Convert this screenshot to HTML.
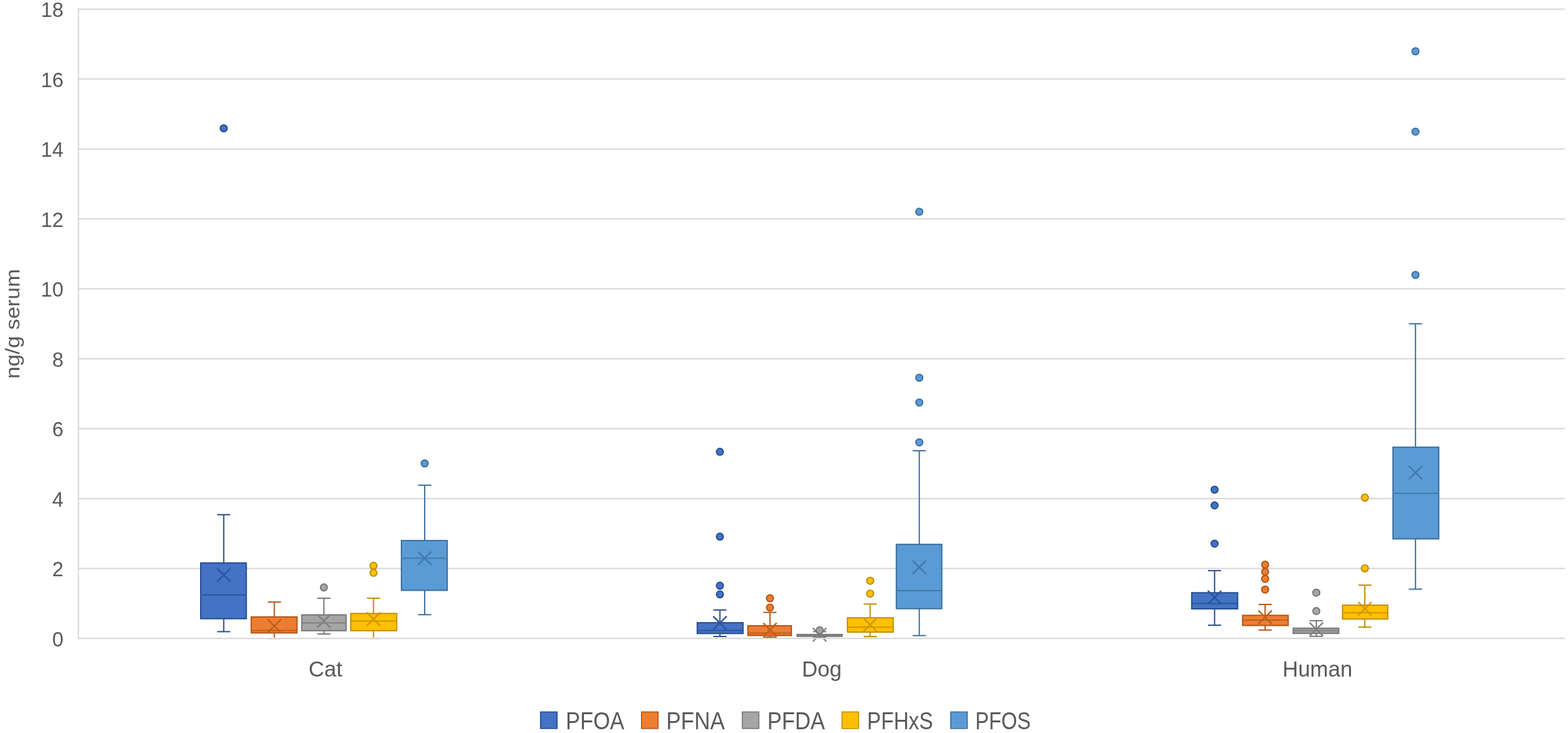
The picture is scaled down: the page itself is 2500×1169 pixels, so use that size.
<!DOCTYPE html>
<html><head><meta charset="utf-8"><title>ng/g serum box plot</title>
<style>html,body{margin:0;padding:0;background:#fff;}body{width:2500px;height:1169px;overflow:hidden;}svg{display:block;}text{font-family:"Liberation Sans",Arial,sans-serif;fill:#595959;}</style>
</head><body>
<svg width="2500" height="1169" viewBox="0 0 2500 1169">
<rect x="0" y="0" width="2500" height="1169" fill="#fff"/>
<g stroke="#D9D9D9" stroke-width="2.2" fill="none">
<line x1="124" y1="906.70" x2="2495" y2="906.70"/>
<line x1="124" y1="795.20" x2="2495" y2="795.20"/>
<line x1="124" y1="683.70" x2="2495" y2="683.70"/>
<line x1="124" y1="572.20" x2="2495" y2="572.20"/>
<line x1="124" y1="460.70" x2="2495" y2="460.70"/>
<line x1="124" y1="349.20" x2="2495" y2="349.20"/>
<line x1="124" y1="237.70" x2="2495" y2="237.70"/>
<line x1="124" y1="126.20" x2="2495" y2="126.20"/>
<line x1="124" y1="14.70" x2="2495" y2="14.70"/>
<line x1="125" y1="13.60" x2="125" y2="1019.30"/>
</g>
<g font-size="32.3" text-anchor="end">
<text x="101.3" y="1030.90">0</text>
<text x="101.3" y="919.40">2</text>
<text x="101.3" y="807.90">4</text>
<text x="101.3" y="696.40">6</text>
<text x="101.3" y="584.90">8</text>
<text x="101.3" y="473.40">10</text>
<text x="101.3" y="361.90">12</text>
<text x="101.3" y="250.40">14</text>
<text x="101.3" y="138.90">16</text>
<text x="101.3" y="27.40">18</text>
</g>
<text font-size="31.5" text-anchor="middle" textLength="175" lengthAdjust="spacingAndGlyphs" transform="translate(31,516.4) rotate(-90)">ng/g serum</text>
<g stroke="#254C8F" stroke-width="2.0" fill="none">
<line x1="356.70" y1="820.80" x2="356.70" y2="897.80"/>
<line x1="356.70" y1="986.70" x2="356.70" y2="1007.40"/>
<line x1="346.20" y1="820.80" x2="367.20" y2="820.80"/>
<line x1="346.20" y1="1007.40" x2="367.20" y2="1007.40"/>
<rect x="320.00" y="897.80" width="72.70" height="88.90" fill="#4472C4"/>
<line x1="320.00" y1="948.70" x2="392.70" y2="948.70" stroke="#2C549B"/>
<path d="M346.00 906.30L367.40 927.70M346.00 927.70L367.40 906.30" stroke-width="2.4" stroke="#2C549B"/>
<circle cx="356.70" cy="204.70" r="5.50" fill="#4472C4"/>
</g>
<g stroke="#B15516" stroke-width="2.0" fill="none">
<line x1="437.40" y1="960.20" x2="437.40" y2="983.90"/>
<line x1="437.40" y1="1009.40" x2="437.40" y2="1018.20"/>
<line x1="426.90" y1="960.20" x2="447.90" y2="960.20"/>
<line x1="426.90" y1="1018.20" x2="447.90" y2="1018.20"/>
<rect x="400.50" y="983.90" width="73.10" height="25.50" fill="#ED7D31"/>
<line x1="400.50" y1="1005.40" x2="473.60" y2="1005.40" stroke="#BE5E1C"/>
<path d="M426.70 987.60L448.10 1009.00M426.70 1009.00L448.10 987.60" stroke-width="2.4" stroke="#BE5E1C"/>
</g>
<g stroke="#767676" stroke-width="2.0" fill="none">
<line x1="516.40" y1="954.10" x2="516.40" y2="980.60"/>
<line x1="516.40" y1="1005.80" x2="516.40" y2="1011.10"/>
<line x1="505.90" y1="954.10" x2="526.90" y2="954.10"/>
<line x1="505.90" y1="1011.10" x2="526.90" y2="1011.10"/>
<rect x="481.20" y="980.60" width="70.60" height="25.20" fill="#A5A5A5"/>
<line x1="481.20" y1="993.50" x2="551.80" y2="993.50" stroke="#808080"/>
<path d="M505.70 979.70L527.10 1001.10M505.70 1001.10L527.10 979.70" stroke-width="2.4" stroke="#808080"/>
<circle cx="516.40" cy="936.80" r="5.50" fill="#A5A5A5"/>
</g>
<g stroke="#C08C00" stroke-width="2.0" fill="none">
<line x1="595.50" y1="954.10" x2="595.50" y2="978.40"/>
<line x1="595.50" y1="1005.80" x2="595.50" y2="1018.20"/>
<line x1="585.00" y1="954.10" x2="606.00" y2="954.10"/>
<line x1="585.00" y1="1018.20" x2="606.00" y2="1018.20"/>
<rect x="559.30" y="978.40" width="73.20" height="27.40" fill="#FFC000"/>
<line x1="559.30" y1="990.40" x2="632.50" y2="990.40" stroke="#CE9700"/>
<path d="M584.80 976.60L606.20 998.00M584.80 998.00L606.20 976.60" stroke-width="2.4" stroke="#CE9700"/>
<circle cx="595.50" cy="902.30" r="5.50" fill="#FFC000"/>
<circle cx="595.50" cy="913.50" r="5.50" fill="#FFC000"/>
</g>
<g stroke="#3A6E9E" stroke-width="2.0" fill="none">
<line x1="677.10" y1="773.80" x2="677.10" y2="862.10"/>
<line x1="677.10" y1="941.50" x2="677.10" y2="980.30"/>
<line x1="666.60" y1="773.80" x2="687.60" y2="773.80"/>
<line x1="666.60" y1="980.30" x2="687.60" y2="980.30"/>
<rect x="640.00" y="862.10" width="73.00" height="79.40" fill="#5B9BD5"/>
<line x1="640.00" y1="890.30" x2="713.00" y2="890.30" stroke="#4178AA"/>
<path d="M666.40 879.60L687.80 901.00M666.40 901.00L687.80 879.60" stroke-width="2.4" stroke="#4178AA"/>
<circle cx="677.10" cy="739.10" r="5.50" fill="#5B9BD5"/>
</g>
<g stroke="#254C8F" stroke-width="2.0" fill="none">
<line x1="1147.80" y1="972.80" x2="1147.80" y2="993.10"/>
<line x1="1147.80" y1="1010.30" x2="1147.80" y2="1015.00"/>
<line x1="1137.30" y1="972.80" x2="1158.30" y2="972.80"/>
<line x1="1137.30" y1="1015.00" x2="1158.30" y2="1015.00"/>
<rect x="1111.70" y="993.10" width="73.00" height="17.20" fill="#4472C4"/>
<line x1="1111.70" y1="1005.60" x2="1184.70" y2="1005.60" stroke="#2C549B"/>
<path d="M1137.10 982.90L1158.50 1004.30M1137.10 1004.30L1158.50 982.90" stroke-width="2.4" stroke="#2C549B"/>
<circle cx="1147.80" cy="720.50" r="5.50" fill="#4472C4"/>
<circle cx="1147.80" cy="855.80" r="5.50" fill="#4472C4"/>
<circle cx="1147.80" cy="934.10" r="5.50" fill="#4472C4"/>
<circle cx="1147.80" cy="947.90" r="5.50" fill="#4472C4"/>
</g>
<g stroke="#B15516" stroke-width="2.0" fill="none">
<line x1="1227.60" y1="976.70" x2="1227.60" y2="998.00"/>
<line x1="1227.60" y1="1013.50" x2="1227.60" y2="1016.20"/>
<line x1="1217.10" y1="976.70" x2="1238.10" y2="976.70"/>
<line x1="1217.10" y1="1016.20" x2="1238.10" y2="1016.20"/>
<rect x="1192.40" y="998.00" width="69.40" height="15.50" fill="#ED7D31"/>
<line x1="1192.40" y1="1009.80" x2="1261.80" y2="1009.80" stroke="#BE5E1C"/>
<path d="M1216.90 993.70L1238.30 1015.10M1216.90 1015.10L1238.30 993.70" stroke-width="2.4" stroke="#BE5E1C"/>
<circle cx="1227.60" cy="954.10" r="5.50" fill="#ED7D31"/>
<circle cx="1227.60" cy="969.00" r="5.50" fill="#ED7D31"/>
</g>
<g stroke="#767676" stroke-width="2.0" fill="none">
<line x1="1306.80" y1="1007.30" x2="1306.80" y2="1011.90"/>
<line x1="1306.80" y1="1014.80" x2="1306.80" y2="1016.20"/>
<line x1="1296.30" y1="1007.30" x2="1317.30" y2="1007.30"/>
<line x1="1296.30" y1="1016.20" x2="1317.30" y2="1016.20"/>
<rect x="1270.80" y="1011.90" width="72.00" height="2.90" fill="#A5A5A5"/>
<line x1="1270.80" y1="1013.40" x2="1342.80" y2="1013.40" stroke="#808080"/>
<path d="M1296.10 1001.60L1317.50 1023.00M1296.10 1023.00L1317.50 1001.60" stroke-width="2.4" stroke="#808080"/>
<circle cx="1306.80" cy="1005.30" r="5.50" fill="#A5A5A5"/>
</g>
<g stroke="#C08C00" stroke-width="2.0" fill="none">
<line x1="1387.40" y1="963.40" x2="1387.40" y2="985.30"/>
<line x1="1387.40" y1="1008.10" x2="1387.40" y2="1015.20"/>
<line x1="1376.90" y1="963.40" x2="1397.90" y2="963.40"/>
<line x1="1376.90" y1="1015.20" x2="1397.90" y2="1015.20"/>
<rect x="1351.20" y="985.30" width="73.00" height="22.80" fill="#FFC000"/>
<line x1="1351.20" y1="1000.20" x2="1424.20" y2="1000.20" stroke="#CE9700"/>
<path d="M1376.70 985.60L1398.10 1007.00M1376.70 1007.00L1398.10 985.60" stroke-width="2.4" stroke="#CE9700"/>
<circle cx="1387.40" cy="926.20" r="5.50" fill="#FFC000"/>
<circle cx="1387.40" cy="946.70" r="5.50" fill="#FFC000"/>
</g>
<g stroke="#3A6E9E" stroke-width="2.0" fill="none">
<line x1="1465.70" y1="718.80" x2="1465.70" y2="868.20"/>
<line x1="1465.70" y1="970.70" x2="1465.70" y2="1013.70"/>
<line x1="1455.20" y1="718.80" x2="1476.20" y2="718.80"/>
<line x1="1455.20" y1="1013.70" x2="1476.20" y2="1013.70"/>
<rect x="1429.20" y="868.20" width="72.40" height="102.50" fill="#5B9BD5"/>
<line x1="1429.20" y1="942.10" x2="1501.60" y2="942.10" stroke="#4178AA"/>
<path d="M1455.00 893.90L1476.40 915.30M1455.00 915.30L1476.40 893.90" stroke-width="2.4" stroke="#4178AA"/>
<circle cx="1465.70" cy="337.70" r="5.50" fill="#5B9BD5"/>
<circle cx="1465.70" cy="602.40" r="5.50" fill="#5B9BD5"/>
<circle cx="1465.70" cy="641.90" r="5.50" fill="#5B9BD5"/>
<circle cx="1465.70" cy="705.40" r="5.50" fill="#5B9BD5"/>
</g>
<g stroke="#254C8F" stroke-width="2.0" fill="none">
<line x1="1936.50" y1="910.10" x2="1936.50" y2="945.30"/>
<line x1="1936.50" y1="971.00" x2="1936.50" y2="997.10"/>
<line x1="1926.00" y1="910.10" x2="1947.00" y2="910.10"/>
<line x1="1926.00" y1="997.10" x2="1947.00" y2="997.10"/>
<rect x="1900.10" y="945.30" width="73.20" height="25.70" fill="#4472C4"/>
<line x1="1900.10" y1="962.40" x2="1973.30" y2="962.40" stroke="#2C549B"/>
<path d="M1925.80 942.00L1947.20 963.40M1925.80 963.40L1947.20 942.00" stroke-width="2.4" stroke="#2C549B"/>
<circle cx="1936.50" cy="780.90" r="5.50" fill="#4472C4"/>
<circle cx="1936.50" cy="806.00" r="5.50" fill="#4472C4"/>
<circle cx="1936.50" cy="867.00" r="5.50" fill="#4472C4"/>
</g>
<g stroke="#B15516" stroke-width="2.0" fill="none">
<line x1="2017.10" y1="964.00" x2="2017.10" y2="981.40"/>
<line x1="2017.10" y1="997.50" x2="2017.10" y2="1004.80"/>
<line x1="2006.60" y1="964.00" x2="2027.60" y2="964.00"/>
<line x1="2006.60" y1="1004.80" x2="2027.60" y2="1004.80"/>
<rect x="1981.20" y="981.40" width="72.60" height="16.10" fill="#ED7D31"/>
<line x1="1981.20" y1="989.00" x2="2053.80" y2="989.00" stroke="#BE5E1C"/>
<path d="M2006.40 973.70L2027.80 995.10M2006.40 995.10L2027.80 973.70" stroke-width="2.4" stroke="#BE5E1C"/>
<circle cx="2017.10" cy="900.60" r="5.50" fill="#ED7D31"/>
<circle cx="2017.10" cy="911.90" r="5.50" fill="#ED7D31"/>
<circle cx="2017.10" cy="923.20" r="5.50" fill="#ED7D31"/>
<circle cx="2017.10" cy="940.20" r="5.50" fill="#ED7D31"/>
</g>
<g stroke="#767676" stroke-width="2.0" fill="none">
<line x1="2098.70" y1="989.90" x2="2098.70" y2="1001.90"/>
<line x1="2098.70" y1="1010.10" x2="2098.70" y2="1014.80"/>
<line x1="2088.20" y1="989.90" x2="2109.20" y2="989.90"/>
<line x1="2088.20" y1="1014.80" x2="2109.20" y2="1014.80"/>
<rect x="2061.90" y="1001.90" width="72.60" height="8.20" fill="#A5A5A5"/>
<line x1="2061.90" y1="1005.70" x2="2134.50" y2="1005.70" stroke="#808080"/>
<path d="M2088.00 992.80L2109.40 1014.20M2088.00 1014.20L2109.40 992.80" stroke-width="2.4" stroke="#808080"/>
<circle cx="2098.70" cy="945.20" r="5.50" fill="#A5A5A5"/>
<circle cx="2098.70" cy="974.50" r="5.50" fill="#A5A5A5"/>
</g>
<g stroke="#C08C00" stroke-width="2.0" fill="none">
<line x1="2176.10" y1="933.20" x2="2176.10" y2="965.20"/>
<line x1="2176.10" y1="987.20" x2="2176.10" y2="1000.20"/>
<line x1="2165.60" y1="933.20" x2="2186.60" y2="933.20"/>
<line x1="2165.60" y1="1000.20" x2="2186.60" y2="1000.20"/>
<rect x="2140.50" y="965.20" width="72.10" height="22.00" fill="#FFC000"/>
<line x1="2140.50" y1="977.30" x2="2212.60" y2="977.30" stroke="#CE9700"/>
<path d="M2165.40 960.00L2186.80 981.40M2165.40 981.40L2186.80 960.00" stroke-width="2.4" stroke="#CE9700"/>
<circle cx="2176.10" cy="793.60" r="5.50" fill="#FFC000"/>
<circle cx="2176.10" cy="906.40" r="5.50" fill="#FFC000"/>
</g>
<g stroke="#3A6E9E" stroke-width="2.0" fill="none">
<line x1="2256.80" y1="516.40" x2="2256.80" y2="713.20"/>
<line x1="2256.80" y1="859.40" x2="2256.80" y2="939.60"/>
<line x1="2246.30" y1="516.40" x2="2267.30" y2="516.40"/>
<line x1="2246.30" y1="939.60" x2="2267.30" y2="939.60"/>
<rect x="2221.00" y="713.20" width="72.90" height="146.20" fill="#5B9BD5"/>
<line x1="2221.00" y1="786.70" x2="2293.90" y2="786.70" stroke="#4178AA"/>
<path d="M2246.10 743.10L2267.50 764.50M2246.10 764.50L2267.50 743.10" stroke-width="2.4" stroke="#4178AA"/>
<circle cx="2256.80" cy="81.80" r="5.50" fill="#5B9BD5"/>
<circle cx="2256.80" cy="210.00" r="5.50" fill="#5B9BD5"/>
<circle cx="2256.80" cy="438.40" r="5.50" fill="#5B9BD5"/>
</g>
<line x1="124" y1="1018.20" x2="2495" y2="1018.20" stroke="#D9D9D9" stroke-width="2.2"/>
<g font-size="34.6" text-anchor="middle">
<text x="519.0" y="1079">Cat</text>
<text x="1310.3" y="1079">Dog</text>
<text x="2100.4" y="1079">Human</text>
</g>
<g font-size="38.8">
<rect x="861.80" y="1135.4" width="26.4" height="26.4" fill="#4472C4" stroke="#254C8F" stroke-width="1.6"/>
<text x="902.00" y="1163.1" textLength="93.50" lengthAdjust="spacingAndGlyphs">PFOA</text>
<rect x="1022.80" y="1135.4" width="26.4" height="26.4" fill="#ED7D31" stroke="#B15516" stroke-width="1.6"/>
<text x="1062.20" y="1163.1" textLength="93.40" lengthAdjust="spacingAndGlyphs">PFNA</text>
<rect x="1183.50" y="1135.4" width="26.4" height="26.4" fill="#A5A5A5" stroke="#767676" stroke-width="1.6"/>
<text x="1223.40" y="1163.1" textLength="92.00" lengthAdjust="spacingAndGlyphs">PFDA</text>
<rect x="1342.50" y="1135.4" width="26.4" height="26.4" fill="#FFC000" stroke="#C08C00" stroke-width="1.6"/>
<text x="1382.60" y="1163.1" textLength="104.90" lengthAdjust="spacingAndGlyphs">PFHxS</text>
<rect x="1515.80" y="1135.4" width="26.4" height="26.4" fill="#5B9BD5" stroke="#3A6E9E" stroke-width="1.6"/>
<text x="1555.10" y="1163.1" textLength="88.20" lengthAdjust="spacingAndGlyphs">PFOS</text>
</g>
</svg>
</body></html>
